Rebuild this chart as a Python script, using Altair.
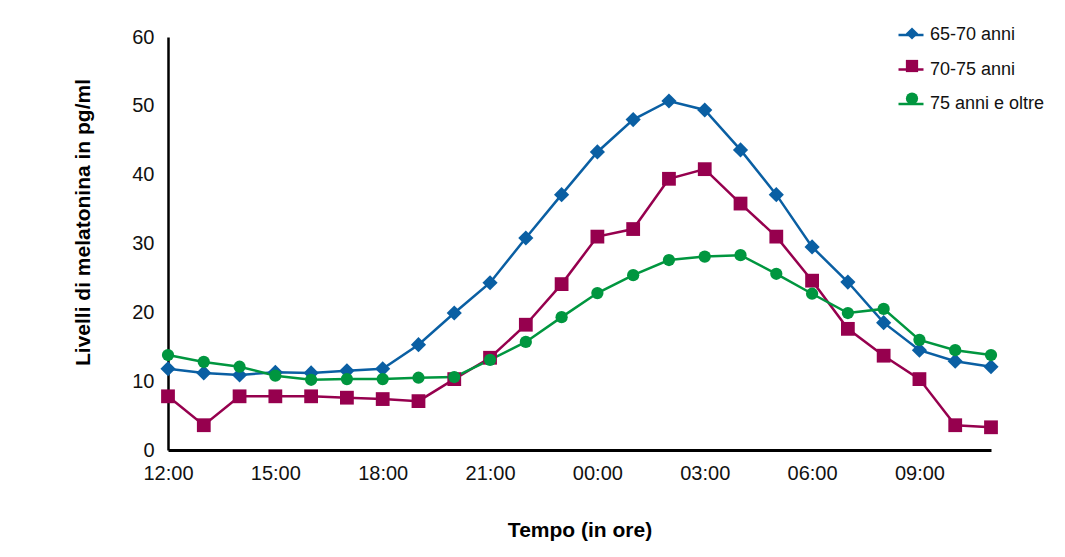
import altair as alt
import pandas as pd

hours = list(range(24))
x_tick_values = [0, 3, 6, 9, 12, 15, 18, 21]
x_tick_labels = ["12:00", "15:00", "18:00", "21:00", "00:00", "03:00", "06:00", "09:00"]
series_names = ["65-70 anni", "70-75 anni", "75 anni e oltre"]
series_colors = ["#0A5FA3", "#96004E", "#00963F"]
series_shapes = ["diamond", "square", "circle"]
series_sizes = [230, 150, 120]

s_65_70 = [11.8, 11.2, 10.9, 11.3, 11.2, 11.5, 11.8, 15.3, 19.9, 24.3, 30.8, 37.1,
           43.3, 48.0, 50.7, 49.4, 43.6, 37.1, 29.5, 24.4, 18.5, 14.5, 12.9, 12.1]
s_70_75 = [7.8, 3.6, 7.8, 7.8, 7.8, 7.6, 7.4, 7.1, 10.3, 13.4, 18.2, 24.1,
           31.0, 32.1, 39.4, 40.8, 35.8, 31.0, 24.6, 17.6, 13.7, 10.3, 3.6, 3.3]
s_75_plus = [13.8, 12.8, 12.1, 10.8, 10.2, 10.3, 10.3, 10.5, 10.6, 13.1, 15.7, 19.3,
             22.8, 25.4, 27.6, 28.1, 28.3, 25.6, 22.7, 19.9, 20.5, 16.0, 14.5, 13.8]

rows = []
for name, vals in zip(series_names, [s_65_70, s_70_75, s_75_plus]):
    for h, v in zip(hours, vals):
        rows.append({"h": h, "val": v, "serie": name})
df = pd.DataFrame(rows)

FONT = "Liberation Sans Narrow, Liberation Sans, Arial, sans-serif"
label_expr = "[" + ",".join("'" + l + "'" for l in x_tick_labels) + "][datum.value/3]"

x_enc = alt.X("h:Q", scale=alt.Scale(domain=[0, 23], nice=False, zero=False),
              axis=alt.Axis(values=x_tick_values, labelExpr=label_expr, title="Tempo (in ore)",
                            ticks=False, grid=False, domainColor="black", domainWidth=3,
                            labelFontSize=20, labelPadding=13, labelColor="#111",
                            titleFontSize=21, titleFontWeight="bold", titlePadding=36,
                            labelFont=FONT, titleFont=FONT, labelFlush=False))
y_enc = alt.Y("val:Q", scale=alt.Scale(domain=[0, 60], nice=False),
              axis=alt.Axis(values=[0, 10, 20, 30, 40, 50, 60], title="Livelli di melatonina in pg/ml",
                            ticks=False, grid=False, domainColor="black", domainWidth=2.5,
                            labelFontSize=20, labelPadding=14, labelColor="#111",
                            titleFontSize=21, titleFontWeight="bold", titlePadding=38, titleY=185,
                            labelFont=FONT, titleFont=FONT))

color_scale = alt.Scale(domain=series_names, range=series_colors)
LINE_SYM = "M-1,0H1"

lines = alt.Chart(df).mark_line(strokeWidth=2.5).encode(
    x=x_enc, y=y_enc,
    color=alt.Color("serie:N", scale=color_scale,
                    legend=alt.Legend(title=None, orient="none", legendX=729, legendY=-16,
                                      symbolType=LINE_SYM, symbolSize=625, symbolStrokeWidth=2.5,
                                      labelFontSize=18, labelFont=FONT, labelColor="#111",
                                      rowPadding=11.5, labelOffset=5)),
)

pt_legend = dict(title=None, orient="none", legendX=735, legendY=-12.5,
                 symbolSize=150, symbolOpacity=1, symbolStrokeWidth=0,
                 labelFontSize=18, labelFont=FONT, labelOpacity=0, labelExpr="' '",
                 rowPadding=14.5, labelOffset=5)

points = alt.Chart(df).mark_point(filled=True, opacity=1).encode(
    x=x_enc, y=y_enc,
    color=alt.Color("serie:N", scale=color_scale, legend=alt.Legend(**pt_legend)),
    shape=alt.Shape("serie:N", scale=alt.Scale(domain=series_names, range=series_shapes),
                    legend=alt.Legend(**pt_legend)),
    size=alt.Size("serie:N", scale=alt.Scale(domain=series_names, range=series_sizes), legend=None),
)

chart = alt.layer(lines, points).resolve_legend(color="independent", shape="independent").properties(
    width=823, height=413,
    autosize=alt.AutoSizeParams(type="none"),
    padding={"left": 160, "top": 29, "right": 66, "bottom": 99},
    background="white",
).configure_view(stroke=None)

chart.save("out.html", embed_options={"renderer": "svg", "actions": False})
